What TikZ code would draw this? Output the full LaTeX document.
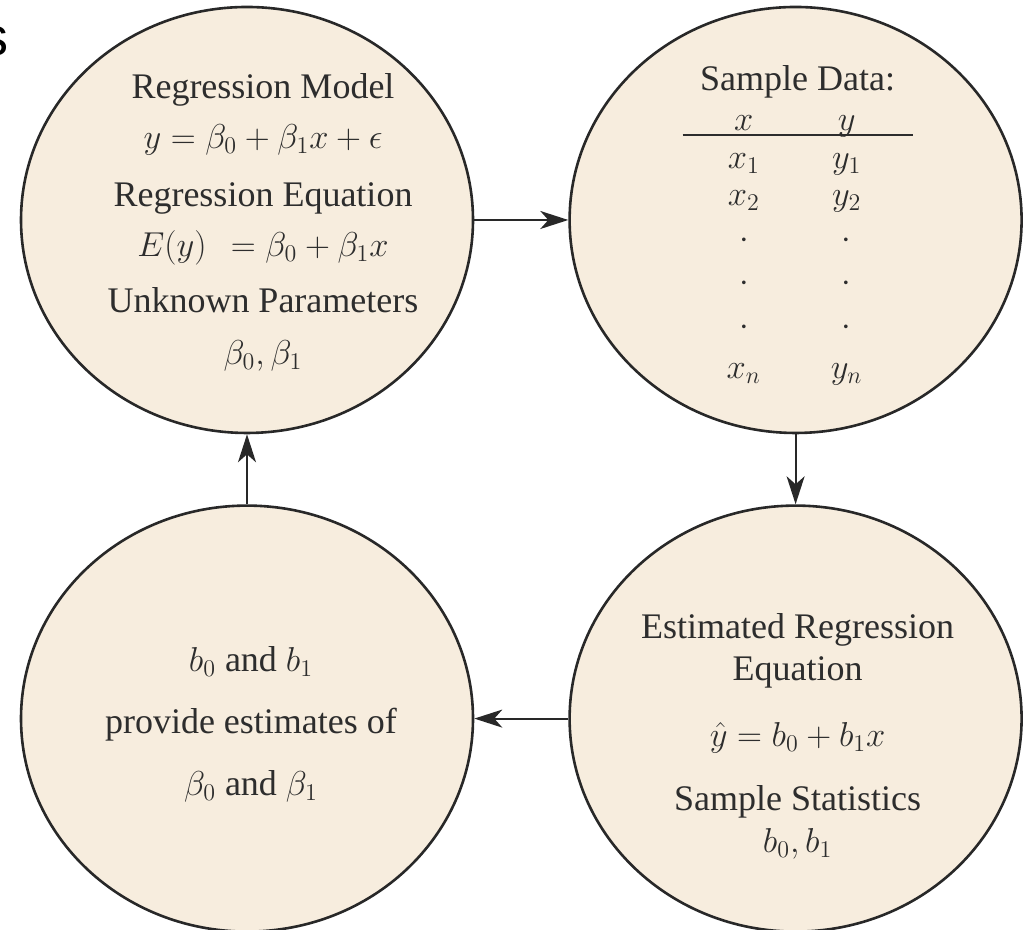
\documentclass[tikz,border=0pt]{standalone}
\usepackage{amsmath,amssymb}
\usepackage{fontspec}
\setmainfont{Liberation Serif}
\newfontfamily\titlefont{Liberation Sans}
\usepackage{tikz}
\usetikzlibrary{arrows.meta,positioning,shapes.geometric}
\definecolor{softbeige}{RGB}{247,237,222}
\definecolor{darkline}{RGB}{40,40,40}
\definecolor{darktext}{RGB}{45,45,45}

\begin{document}
\begin{tikzpicture}[every node/.style={font=\fontsize{18}{21}\selectfont,text=darktext},
  stage/.style={ellipse,draw=darkline,fill=softbeige,line width=1.3pt,minimum width=226pt,minimum height=213pt,inner sep=0pt}]
  \useasboundingbox (0,0) rectangle (514pt,465pt);
  \node[font=\titlefont\fontsize{27}{30}\selectfont,text=black,anchor=base east,inner sep=0pt] (title) at (4.5pt,437pt) {s};
  \node[stage] (model) at (123.5pt,355pt) {};
  \node[stage,right=47pt of model] (data) {};
  \node[stage,below=35pt of data] (estimated) {};
  \node[stage,below=35pt of model] (estimates) {};
  \node[align=center,font=\fontsize{18}{25}\selectfont] (modeltext) at ([xshift=8pt,yshift=-1pt]model.center) {Regression Model\\
    $y = \beta_0 + \beta_1 x + \epsilon$\\[4pt]
    Regression Equation\\
    $E(y)\ \,= \beta_0 + \beta_1 x$\\[3pt]
    Unknown Parameters\\[1pt]
    $\beta_0, \beta_1$};
  \node[inner sep=0pt,font=\fontsize{18}{21.6}\selectfont] (datatext) at ([xshift=1pt,yshift=-3pt]data.center) {\setlength{\arrayrulewidth}{1.1pt}%
    \begin{tabular}{@{\hspace{22pt}}c@{\hspace{35pt}}c@{\hspace{25pt}}}
      \multicolumn{2}{c}{Sample Data:}\\[-2pt]
      $x$ & $y$\\[-4.5pt] \hline
      \rule{0pt}{16pt}$x_1$ & $y_1$\\[-3pt]
      $x_2$ & $y_2$\\
      $\cdot$ & $\cdot$\\
      $\cdot$ & $\cdot$\\
      $\cdot$ & $\cdot$\\
      $x_n$ & $y_n$
    \end{tabular}};
  \node[align=center,font=\fontsize{18}{21}\selectfont] (estimatedtext) at ([xshift=1pt,yshift=-9pt]estimated.center) {Estimated Regression\\
    Equation\\[12pt]
    $\hat{y} = b_0 + b_1 x$\\[11pt]
    Sample Statistics\\[0pt]
    $b_0, b_1$};
  \node[align=center,font=\fontsize{18}{31}\selectfont] (estimatestext) at ([xshift=2pt,yshift=-3pt]estimates.center) {$b_0$ and $b_1$\\
    provide estimates of\\
    $\beta_0$ and $\beta_1$};
  \foreach \a/\b in {model/data,data/estimated,estimated/estimates,estimates/model}{\draw[-{Stealth[length=14pt,width=9pt,inset=4pt]},line width=1pt,draw=darkline] (\a) -- (\b);}
\end{tikzpicture}
\end{document}
